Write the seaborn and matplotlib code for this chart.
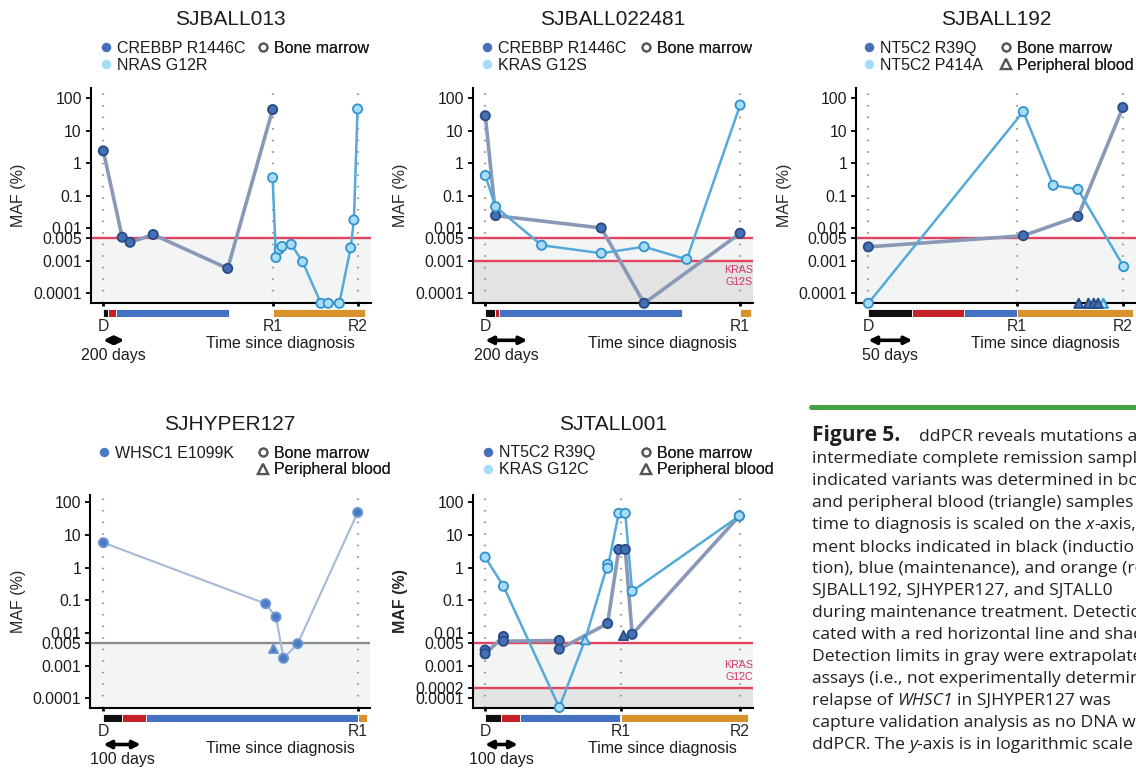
import pandas as pd
import seaborn as sns
import matplotlib.pyplot as plt
import matplotlib.ticker as mticker
from matplotlib import transforms
from matplotlib.lines import Line2D

# values: days since diagnosis, MAF in %
# None = sample below the detection limit (sits on the x-axis)

# SJBALL013
b013_crebbp_day = [0, 180, 255, 475, 1185, 1613]
b013_crebbp_maf = [2.4, 0.0053, 0.0037, 0.0064, 0.00058, 45]
b013_nras_day = [1613, 1644, 1676, 1702, 1790, 1898, 2073, 2143, 2248, 2356, 2387, 2422]
b013_nras_maf = [0.36, 0.00126, 0.00226, 0.00275, 0.0032, 0.00093, None, None, None, 0.0025, 0.018, 47]
b013_events = [0, 1613, 2422]
b013_phase_start = [0, 48, 125, 1620]
b013_phase_end = [48, 125, 1200, 2490]

# SJBALL022481
b022481_crebbp_day = [0, 49, 552, 756, 1213]
b022481_crebbp_maf = [29, 0.0245, 0.0102, None, 0.0070]
b022481_kras_day = [0, 49, 268, 552, 756, 959, 1213]
b022481_kras_maf = [0.42, 0.046, 0.0030, 0.0017, 0.0027, 0.0011, 62]
b022481_events = [0, 1213]
b022481_phase_start = [0, 46, 64, 1213]
b022481_phase_end = [46, 64, 935, 1263]

# SJBALL192
b192_r39q_day = [0, 176, 238, 289]
b192_r39q_maf = [0.00267, 0.0059, 0.023, 52]
b192_p414a_day = [0, 176, 210, 238, 290]
b192_p414a_maf = [None, 39, 0.21, 0.158, 0.00066]
b192_r39q_pb_day = [239, 250, 256, 261]
b192_r39q_pb_maf = [None, None, None, None]
b192_p414a_pb_day = [250, 256, 261, 267]
b192_p414a_pb_maf = [None, None, None, None]
b192_events = [0, 169, 289]
b192_phase_start = [0, 50, 109, 169]
b192_phase_end = [50, 109, 169, 301]

# SJHYPER127
h127_whsc1_day = [0, 435, 463, 483, 521, 682]
h127_whsc1_maf = [5.8, 0.079, 0.031, 0.00168, 0.0047, 49]
h127_whsc1_pb_day = [454]
h127_whsc1_pb_maf = [0.0034]
h127_events = [0, 682]
h127_phase_start = [0, 51, 113, 682]
h127_phase_end = [51, 113, 682, 706]

# SJTALL001
t001_r39q_day = [0, 0, 56, 56, 227, 227, 375, 409, 429, 450, 778]
t001_r39q_maf = [0.003, 0.0023, 0.0078, 0.0056, 0.0059, 0.0032, 0.0195, 3.6, 3.6, 0.0091, 38]
t001_r39q_pb_day = [421]
t001_r39q_pb_maf = [0.0087]
t001_kras_day = [0, 56, 227, 306, 375, 375, 409, 429, 450, 778]
t001_kras_maf = [2.1, 0.27, None, 0.0062, 1.26, 0.96, 46, 46, 0.19, 38]
t001_kras_src = ['BM', 'BM', 'BM', 'PB', 'BM', 'BM', 'BM', 'BM', 'BM', 'BM']
t001_events = [0, 415, 780]
t001_phase_start = [0, 49, 108, 415]
t001_phase_end = [49, 108, 413, 805]

PHASES = ['induction', 'consolidation', 'maintenance', 'relapse']
PHASE_COLORS = {'induction': '#101010', 'consolidation': '#c62129',
                'maintenance': '#4571c3', 'relapse': '#d9922b'}

TONES = {
    'dark': dict(line='#8a98b8', lw=2.6, face='#4470b5', edge='#2a4a84', swatch='#4470b5'),
    'light': dict(line='#55aad8', lw=1.8, face='#aadcf3', edge='#3093cf', swatch='#a6dcf5'),
    'hyper': dict(line='#a6bad5', lw=1.5, face='#4a7cc4', edge='#6e97d2', swatch='#4a7cc4'),
}
RED = '#e2445f'
GRAY = '#8c8c8c'

YTICKS = [100, 10, 1, 0.1, 0.01, 0.005, 0.001, 0.0001]
YTICKS_T001 = [100, 10, 1, 0.1, 0.01, 0.005, 0.001, 0.0002, 0.0001]

panels = [
    dict(title='SJBALL013', left=90.7, row=0, xlim=(-120, 2547), span=200,
         events=b013_events, names=['D', 'R1', 'R2'],
         phases=(b013_phase_start, b013_phase_end),
         series=[('CREBBP R1446C', 'dark', b013_crebbp_day, b013_crebbp_maf, None),
                 ('NRAS G12R', 'light', b013_nras_day, b013_nras_maf, None)],
         loose=[], limits=[(0.005, RED)], tag=None, yticks=YTICKS,
         samples=['Bone marrow'], leg_x=(106, 263), bold=False),
    dict(title='SJBALL022481', left=472.7, row=0, xlim=(-60, 1273), span=200,
         events=b022481_events, names=['D', 'R1'],
         phases=(b022481_phase_start, b022481_phase_end),
         series=[('CREBBP R1446C', 'dark', b022481_crebbp_day, b022481_crebbp_maf, None),
                 ('KRAS G12S', 'light', b022481_kras_day, b022481_kras_maf, None)],
         loose=[], limits=[(0.005, RED), (0.001, RED)], tag=('KRAS\nG12S', 0.00034),
         yticks=YTICKS, samples=['Bone marrow'], leg_x=(487.3, 645.7), bold=False),
    dict(title='SJBALL192', left=856, row=0, xlim=(-14, 304), span=50,
         events=b192_events, names=['D', 'R1', 'R2'],
         phases=(b192_phase_start, b192_phase_end),
         series=[('NT5C2 R39Q', 'dark', b192_r39q_day, b192_r39q_maf, None),
                 ('NT5C2 P414A', 'light', b192_p414a_day, b192_p414a_maf, None)],
         loose=[('light', b192_p414a_pb_day, b192_p414a_pb_maf),
                ('dark', b192_r39q_pb_day, b192_r39q_pb_maf)],
         limits=[(0.005, RED)], tag=None, yticks=YTICKS,
         samples=['Bone marrow', 'Peripheral blood'], leg_x=(869.3, 1006), bold=False),
    dict(title='SJHYPER127', left=90, row=1, xlim=(-36, 715), span=100,
         events=h127_events, names=['D', 'R1'],
         phases=(h127_phase_start, h127_phase_end),
         series=[('WHSC1 E1099K', 'hyper', h127_whsc1_day, h127_whsc1_maf, None)],
         loose=[('hyper', h127_whsc1_pb_day, h127_whsc1_pb_maf)],
         limits=[(0.005, GRAY)], tag=None, yticks=YTICKS,
         samples=['Bone marrow', 'Peripheral blood'], leg_x=(104.3, 263.3), bold=False),
    dict(title='SJTALL001', left=472.7, row=1, xlim=(-38, 819), span=100,
         events=t001_events, names=['D', 'R1', 'R2'],
         phases=(t001_phase_start, t001_phase_end),
         series=[('NT5C2 R39Q', 'dark', t001_r39q_day, t001_r39q_maf, None),
                 ('KRAS G12C', 'light', t001_kras_day, t001_kras_maf, t001_kras_src)],
         loose=[('dark', t001_r39q_pb_day, t001_r39q_pb_maf)],
         limits=[(0.005, RED), (0.0002, RED)], tag=('KRAS\nG12C', 0.0007),
         yticks=YTICKS_T001, samples=['Bone marrow', 'Peripheral blood'],
         leg_x=(487.7, 646), bold=True),
]

# caption lines as (text, italic, gap in px before the piece)
caption = [
    [('intermediate complete remission sampl', False, 0)],
    [('indicated variants was determined in bo', False, 0)],
    [('and peripheral blood (triangle) samples f', False, 0)],
    [('time to diagnosis is scaled on the', False, 0), ('x', True, 4.5), ('-axis,', False, 0)],
    [('ment blocks indicated in black (inductio', False, 0)],
    [('tion), blue (maintenance), and orange (re', False, 0)],
    [('SJBALL192, SJHYPER127, and SJTALL0', False, 0)],
    [('during maintenance treatment. Detectio', False, 0)],
    [('cated with a red horizontal line and shad', False, 0)],
    [('Detection limits in gray were extrapolate', False, 0)],
    [('assays (i.e., not experimentally determin', False, 0)],
    [('relapse of', False, 0), ('WHSC1', True, 4.5), ('in SJHYPER127 was', False, 4.5)],
    [('capture validation analysis as no DNA wa', False, 0)],
    [('ddPCR. The', False, 0), ('y', True, 4.5), ('-axis is in logarithmic scale', False, 0)],
]

sns.set_style('ticks')
plt.rcParams['font.family'] = ['Liberation Sans', 'DejaVu Sans']
plt.rcParams['text.color'] = '#1c1c1c'

W, H = 1136, 768
fig = plt.figure(figsize=(W / 100, H / 100), dpi=100)

ROWS = [(88.3, 303.3), (495, 707.5)]          # axes top / bottom, px
YLIM = [(4.9e-5, 203), (5.24e-5, 167)]
TITLE_Y = [19.5, 424.5]
LEGEND_Y = [48, 452.5]


def fig_xy(x, y):
    return x / W, 1 - y / H


def draw(ax, day, maf, src, tone, floor, connect=True):
    st = TONES[tone]
    df = pd.DataFrame({'day': day,
                       'maf': [floor if v is None else v for v in maf],
                       'src': src if src is not None else ['BM'] * len(day)})
    if connect:
        sns.lineplot(data=df, x='day', y='maf', sort=False, estimator=None,
                     color=st['line'], lw=st['lw'], ax=ax, zorder=3, clip_on=False)
    sns.scatterplot(data=df, x='day', y='maf', style='src',
                    markers={'BM': 'o', 'PB': '^'}, s=44, color=st['face'],
                    edgecolor=st['edge'], linewidth=1.3, legend=False, ax=ax,
                    zorder=4, clip_on=False)


def legend(ax, handles, labels, x, y):
    leg = ax.legend(handles, labels, loc='upper left',
                    bbox_to_anchor=fig_xy(x - 4.4, y - 7), bbox_transform=fig.transFigure,
                    frameon=False, borderpad=0, borderaxespad=0, handlelength=0.55,
                    handletextpad=0.42, labelspacing=0.1, fontsize=11.5)
    ax.add_artist(leg)


for p in panels:
    top, bottom = ROWS[p['row']]
    floor, ceil = YLIM[p['row']]
    ax = fig.add_axes([p['left'] / W, 1 - bottom / H, 280 / W, (bottom - top) / H])
    ax.set_yscale('log')
    ax.set_xlim(*p['xlim'])
    ax.set_ylim(floor, ceil)

    # detection limits and shading under them
    shades = ['#f3f5f5', '#e3e3e3']
    for i, (lim, col) in enumerate(p['limits']):
        ax.axhspan(floor, lim, color=shades[i], lw=0, zorder=0)
        ax.axhline(lim, color=col, lw=1.7, zorder=2)
    if p['tag']:
        ax.text(1.0, p['tag'][1], p['tag'][0], transform=ax.get_yaxis_transform(),
                ha='right', va='center', color='#d8346a', fontsize=7.7, linespacing=1.3)

    for ev in p['events']:
        ax.axvline(ev, color='#9a9a9a', lw=1.6, ls=(0, (0.7, 4.5)), zorder=1)

    for label, tone, day, maf, src in p['series']:
        draw(ax, day, maf, src, tone, floor)
    for tone, day, maf in p['loose']:
        draw(ax, day, maf, ['PB'] * len(day), tone, floor, connect=False)

    ax.set_yticks(p['yticks'], labels=[f'{v:g}' if v >= 0.001 else f'{v:.4f}' for v in p['yticks']])
    ax.yaxis.set_minor_locator(mticker.NullLocator())
    ax.set_xticks(p['events'], labels=[])
    ax.tick_params(axis='y', length=3.4, width=1.3, pad=3, labelsize=11.3, colors='black',
                   labelcolor='#1c1c1c')
    ax.tick_params(axis='x', length=2.5, width=2, colors='black')
    ax.set_xlabel('')
    ax.set_ylabel('MAF (%)', fontsize=11.5, labelpad=5,
                  fontweight='bold' if p['bold'] else 'normal')
    sns.despine(ax=ax)
    for side in ['left', 'bottom']:
        ax.spines[side].set_linewidth(1.5)
        ax.spines[side].set_color('black')

    # treatment blocks under the axis
    bx = fig.add_axes([p['left'] / W, 1 - (bottom + 14) / H, 280 / W, 8 / H])
    starts, ends = p['phases']
    bx.barh([0] * len(starts), [e - s for s, e in zip(starts, ends)], left=starts, height=1,
            color=[PHASE_COLORS[ph] for ph in PHASES[:len(starts)]],
            edgecolor='white', linewidth=0.6)
    bx.set_xlim(*p['xlim'])
    bx.set_ylim(-0.5, 0.5)
    bx.set_yticks([])
    bx.set_xticks(p['events'], labels=p['names'])
    bx.tick_params(axis='x', length=0, pad=1.5, labelsize=11.3)
    for s in bx.spines.values():
        s.set_visible(False)
    bx.patch.set_alpha(0)

    # scale arrow
    d0 = p['events'][0]
    arrow_tr = transforms.offset_copy(ax.get_xaxis_transform(), fig=fig, y=-37, units='dots')
    ax.annotate('', xy=(d0 + p['span'], 0), xytext=(d0, 0), xycoords=arrow_tr,
                textcoords=arrow_tr, annotation_clip=False,
                arrowprops=dict(arrowstyle='<|-|>', lw=2.6, color='black',
                                mutation_scale=11, shrinkA=0, shrinkB=0))
    text_tr = transforms.offset_copy(ax.get_xaxis_transform(), fig=fig, y=-52, units='dots')
    ax.text(d0 + p['span'] / 2, 0, f"{p['span']} days", transform=text_tr,
            ha='center', va='center', fontsize=11.5)
    time_tr = transforms.offset_copy(ax.get_xaxis_transform(), fig=fig, x=-3, y=-40.5,
                                     units='dots')
    ax.text(p['events'][-1], 0, 'Time since diagnosis', transform=time_tr,
            ha='right', va='center', fontsize=11.5)

    # title and legends
    fig.text(*fig_xy(p['left'] + 140, TITLE_Y[p['row']]), p['title'], fontsize=15,
             ha='center', va='center')
    mh = [Line2D([], [], ls='', marker='o', ms=6.8, mfc=TONES[s[1]]['swatch'], mec='none')
          for s in p['series']]
    legend(ax, mh, [s[0] for s in p['series']], p['leg_x'][0], LEGEND_Y[p['row']])
    sh = [Line2D([], [], ls='', marker=m, ms=m_s, mfc='white', mec='#555555', mew=1.6)
          for m, m_s in [('o', 5.6), ('^', 6.6)]][:len(p['samples'])]
    legend(ax, sh, p['samples'], p['leg_x'][1], LEGEND_Y[p['row']])

# caption block on the lower right
cax = fig.add_axes([0, 0, 1, 1], zorder=-1)
cax.set_xlim(0, 1)
cax.set_ylim(0, 1)
cax.axis('off')
cap_style = dict(fontfamily='Open Sans', fontsize=12.6, color='#231f20')
cax.add_line(Line2D([811 / W, 1.0], [1 - 407 / H] * 2, color='#43a243', lw=3.6))
cax.text(*fig_xy(811.7, 441), 'Figure 5.', fontfamily='Open Sans', fontweight='bold',
         fontsize=15, va='baseline', color='#231f20')
cax.text(*fig_xy(919.3, 441), 'ddPCR reveals mutations a', va='baseline', **cap_style)
for i, pieces in enumerate(caption):
    prev = None
    for text, italic, gap in pieces:
        style = 'italic' if italic else 'normal'
        if prev is None:
            prev = cax.text(*fig_xy(811.7, 441 + 22 * (i + 1)), text, va='baseline',
                            fontstyle=style, **cap_style)
        else:
            prev = cax.annotate(text, xy=(1, 0), xycoords=prev, xytext=(gap, 0),
                                textcoords='offset pixels', va='bottom',
                                fontstyle=style, **cap_style)

fig.savefig('out.png', dpi=100)
